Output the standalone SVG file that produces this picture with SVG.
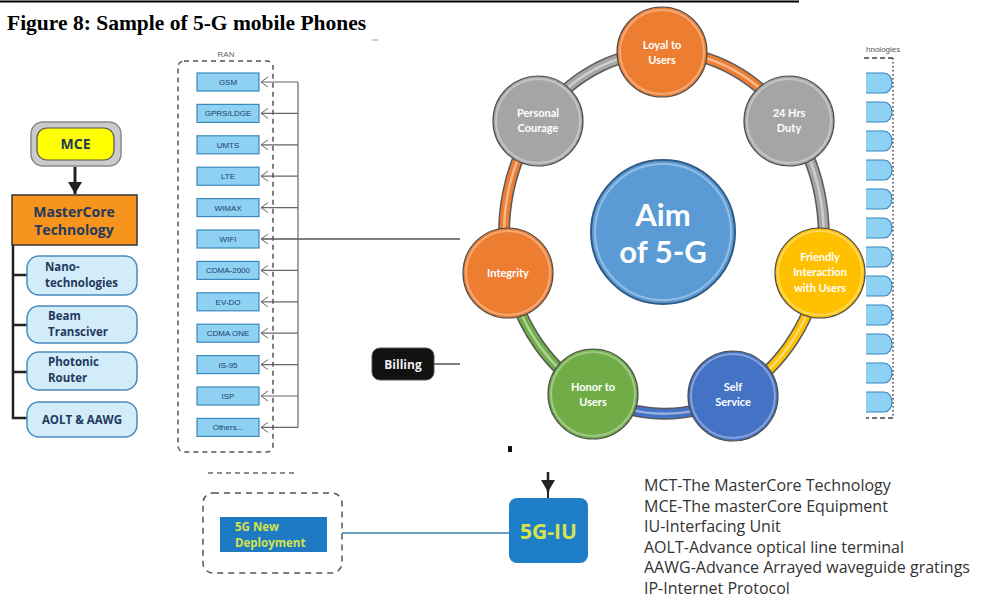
<svg xmlns="http://www.w3.org/2000/svg" width="983" height="605" viewBox="0 0 983 605">
<defs>
<style>
.t{font-family:"Open Sans","Liberation Sans",sans-serif;}
.ran rect{fill:#8ed1f2;stroke:#3b88bd;stroke-width:1.2;}
.ran text{font-family:"Liberation Sans",sans-serif;font-size:8px;fill:#23406b;text-anchor:middle;}
.conn{stroke:#666;stroke-width:1.2;fill:none;}
.chev{stroke:#666;stroke-width:1;fill:none;}
.sub rect{fill:#d3ecf9;stroke:#4a8bbf;stroke-width:1.5;}
.sub text{font-family:"Open Sans","Liberation Sans",sans-serif;font-weight:700;font-size:11.5px;fill:#22395e;}
.nd circle.b{stroke:#4d4d4d;stroke-width:1.2;}
.nd circle.h{fill:none;stroke:#fff;stroke-opacity:0.35;stroke-width:2;}
.nd text{font-family:Lato,"Open Sans","Liberation Sans",sans-serif;font-weight:700;font-size:11px;fill:#fff;text-anchor:middle;}
.rimo{fill:none;stroke:#5a5a5a;stroke-width:12;}
.rimh{fill:none;stroke:#fff;stroke-opacity:0.45;stroke-width:2.5;}
.leg{font-family:"Open Sans","Liberation Sans",sans-serif;font-size:16px;fill:#333;}
.rbox{fill:#8ed1f2;stroke:#3b88bd;stroke-width:1.2;}
</style>
<marker id="arr" markerWidth="14" markerHeight="16" refX="12" refY="7" orient="auto" markerUnits="userSpaceOnUse"><path d="M0,0 L12,7 L0,14 Z" fill="#222"/></marker>
<path id="s1" d="M662,52 A158,181 0 0 1 789,121"/>
<path id="s2" d="M789,121 A158,181 0 0 1 820,273"/>
<path id="s3" d="M820,273 A158,181 0 0 1 733,396"/>
<path id="s4" d="M733,396 A158,181 0 0 1 593,394"/>
<path id="s5" d="M593,394 A158,181 0 0 1 508,273"/>
<path id="s6" d="M508,273 A158,181 0 0 1 538,121"/>
<path id="s7" d="M538,121 A158,181 0 0 1 662,52"/>
</defs>
<rect width="983" height="605" fill="#fff"/>
<line x1="0" y1="1.5" x2="799" y2="1.5" stroke="#000" stroke-width="2"/>
<text x="7" y="30" font-family="Liberation Serif,serif" font-weight="700" font-size="21.5" fill="#000">Figure 8: Sample of 5-G mobile Phones</text>
<line x1="372" y1="40" x2="378" y2="40" stroke="#999" stroke-width="1"/>

<!-- right partial technologies column -->
<g id="tech-col">
<text x="866" y="52" font-family="Liberation Sans,sans-serif" font-size="8" fill="#555">hnologies</text>
<line x1="864" y1="58" x2="893" y2="58" stroke="#444" stroke-width="1.5" stroke-dasharray="5,3"/>
<line x1="893" y1="58" x2="893" y2="418" stroke="#444" stroke-width="1.5" stroke-dasharray="1.5,2.5"/>
<line x1="864" y1="418" x2="893" y2="418" stroke="#444" stroke-width="1.5" stroke-dasharray="5,3"/>
<path class="rbox" d="M858,73 H884 a8,10 0 0 1 0,20 H858 Z"/>
<path class="rbox" d="M858,102 H884 a8,10 0 0 1 0,20 H858 Z"/>
<path class="rbox" d="M858,131 H884 a8,10 0 0 1 0,20 H858 Z"/>
<path class="rbox" d="M858,160 H884 a8,10 0 0 1 0,20 H858 Z"/>
<path class="rbox" d="M858,189 H884 a8,10 0 0 1 0,20 H858 Z"/>
<path class="rbox" d="M858,218 H884 a8,10 0 0 1 0,20 H858 Z"/>
<path class="rbox" d="M858,247 H884 a8,10 0 0 1 0,20 H858 Z"/>
<path class="rbox" d="M858,276 H884 a8,10 0 0 1 0,20 H858 Z"/>
<path class="rbox" d="M858,305 H884 a8,10 0 0 1 0,20 H858 Z"/>
<path class="rbox" d="M858,334 H884 a8,10 0 0 1 0,20 H858 Z"/>
<path class="rbox" d="M858,363 H884 a8,10 0 0 1 0,20 H858 Z"/>
<path class="rbox" d="M858,392 H884 a8,10 0 0 1 0,20 H858 Z"/>
<rect x="840" y="60" width="26" height="360" fill="#fff"/>
</g>

<!-- connectors -->
<g id="connectors">
<line x1="75" y1="167" x2="75" y2="194" stroke="#222" stroke-width="3" marker-end="url(#arr)"/>
<polyline points="13,245 13,418 27,418" fill="none" stroke="#222" stroke-width="2.5"/>
<line x1="13" y1="275" x2="27" y2="275" stroke="#222" stroke-width="2.5"/>
<line x1="13" y1="325" x2="27" y2="325" stroke="#222" stroke-width="2.5"/>
<line x1="13" y1="372" x2="27" y2="372" stroke="#222" stroke-width="2.5"/>
<line class="conn" x1="298" y1="82" x2="298" y2="427.4"/>
<line class="conn" x1="298" y1="82" x2="261" y2="82"/>
<line class="conn" x1="298" y1="113.4" x2="261" y2="113.4"/>
<line class="conn" x1="298" y1="144.8" x2="261" y2="144.8"/>
<line class="conn" x1="298" y1="176.2" x2="261" y2="176.2"/>
<line class="conn" x1="298" y1="207.6" x2="261" y2="207.6"/>
<line x1="460" y1="239" x2="261" y2="239" stroke="#555" stroke-width="1.5"/>
<line class="conn" x1="298" y1="270.4" x2="261" y2="270.4"/>
<line class="conn" x1="298" y1="301.8" x2="261" y2="301.8"/>
<line class="conn" x1="298" y1="333.2" x2="261" y2="333.2"/>
<line class="conn" x1="298" y1="364.6" x2="261" y2="364.6"/>
<line class="conn" x1="298" y1="396" x2="261" y2="396"/>
<line class="conn" x1="298" y1="427.4" x2="261" y2="427.4"/>
<polyline class="chev" points="268,77 261,82 268,87"/>
<polyline class="chev" points="268,108.4 261,113.4 268,118.4"/>
<polyline class="chev" points="268,139.8 261,144.8 268,149.8"/>
<polyline class="chev" points="268,171.2 261,176.2 268,181.2"/>
<polyline class="chev" points="268,202.6 261,207.6 268,212.6"/>
<polyline class="chev" points="268,234 261,239 268,244"/>
<polyline class="chev" points="268,265.4 261,270.4 268,275.4"/>
<polyline class="chev" points="268,296.8 261,301.8 268,306.8"/>
<polyline class="chev" points="268,328.2 261,333.2 268,338.2"/>
<polyline class="chev" points="268,359.6 261,364.6 268,369.6"/>
<polyline class="chev" points="268,391 261,396 268,401"/>
<polyline class="chev" points="268,422.4 261,427.4 268,432.4"/>
<line x1="434" y1="364" x2="460" y2="364" stroke="#555" stroke-width="1.5"/>
<line x1="342" y1="533" x2="509" y2="533" stroke="#3a7ca5" stroke-width="1.5"/>
<line x1="548" y1="472" x2="548" y2="492" stroke="#222" stroke-width="2.5" marker-end="url(#arr)"/>
<line x1="548" y1="488" x2="548" y2="498" stroke="#222" stroke-width="2"/>
<use href="#s1" class="rimo"/><use href="#s1" fill="none" stroke="#ed7d31" stroke-width="9"/><use href="#s1" class="rimh"/>
<use href="#s2" class="rimo"/><use href="#s2" fill="none" stroke="#a5a5a5" stroke-width="9"/><use href="#s2" class="rimh"/>
<use href="#s3" class="rimo"/><use href="#s3" fill="none" stroke="#ffc000" stroke-width="9"/><use href="#s3" class="rimh"/>
<use href="#s4" class="rimo"/><use href="#s4" fill="none" stroke="#4472c4" stroke-width="9"/><use href="#s4" class="rimh"/>
<use href="#s5" class="rimo"/><use href="#s5" fill="none" stroke="#70ad47" stroke-width="9"/><use href="#s5" class="rimh"/>
<use href="#s6" class="rimo"/><use href="#s6" fill="none" stroke="#ed7d31" stroke-width="9"/><use href="#s6" class="rimh"/>
<use href="#s7" class="rimo"/><use href="#s7" fill="none" stroke="#a5a5a5" stroke-width="9"/><use href="#s7" class="rimh"/>
</g>

<!-- left column -->
<g id="mce">
<rect x="31" y="122" width="90" height="44" rx="12" fill="#cbcbcb" stroke="#8a8a8a" stroke-width="1.5"/>
<rect x="37" y="128" width="77" height="32" rx="10" fill="#ffff00" stroke="#555" stroke-width="1.2"/>
<text class="t" x="75.5" y="149" font-size="14" font-weight="700" fill="#22395e" text-anchor="middle">MCE</text>
</g>
<g id="mct">
<rect x="12" y="195" width="125" height="50" fill="#f7941d" stroke="#333" stroke-width="1.5"/>
<text class="t" x="74" y="217" font-size="14" font-weight="700" fill="#22395e" text-anchor="middle">MasterCore</text>
<text class="t" x="74" y="235" font-size="14" font-weight="700" fill="#22395e" text-anchor="middle">Technology</text>
</g>
<g id="nano" class="sub"><rect x="27" y="256" width="110" height="39" rx="12"/><text x="45" y="271">Nano-</text><text x="45" y="287">technologies</text></g>
<g id="beam" class="sub"><rect x="27" y="306" width="110" height="37" rx="12"/><text x="48" y="320">Beam</text><text x="48" y="336">Transciver</text></g>
<g id="photonic" class="sub"><rect x="27" y="352" width="110" height="38" rx="12"/><text x="48" y="366">Photonic</text><text x="48" y="382">Router</text></g>
<g id="aolt" class="sub"><rect x="27" y="402" width="110" height="35" rx="12"/><text x="82" y="424" text-anchor="middle">AOLT &amp; AAWG</text></g>

<!-- RAN -->
<g id="ran" class="ran">
<text x="226" y="57" style="fill:#666">RAN</text>
<rect x="178" y="61" width="95" height="391" rx="6" style="fill:none;stroke:#555;stroke-width:1.5;stroke-dasharray:5,4"/>
</g>
<g id="gsm" class="ran"><rect x="197" y="73" width="62" height="18"/><text x="228" y="85">GSM</text></g>
<g id="gprs" class="ran"><rect x="197" y="104.4" width="62" height="18"/><text x="228" y="116.4">GPRS/LDGE</text></g>
<g id="umts" class="ran"><rect x="197" y="135.8" width="62" height="18"/><text x="228" y="147.8">UMTS</text></g>
<g id="lte" class="ran"><rect x="197" y="167.2" width="62" height="18"/><text x="228" y="179.2">LTE</text></g>
<g id="wimax" class="ran"><rect x="197" y="198.6" width="62" height="18"/><text x="228" y="210.6">WIMAX</text></g>
<g id="wifi" class="ran"><rect x="197" y="230" width="62" height="18"/><text x="228" y="242">WIFI</text></g>
<g id="cdma2000" class="ran"><rect x="197" y="261.4" width="62" height="18"/><text x="228" y="273.4">CDMA-2000</text></g>
<g id="evdo" class="ran"><rect x="197" y="292.8" width="62" height="18"/><text x="228" y="304.8">EV-DO</text></g>
<g id="cdmaone" class="ran"><rect x="197" y="324.2" width="62" height="18"/><text x="228" y="336.2">CDMA ONE</text></g>
<g id="is95" class="ran"><rect x="197" y="355.6" width="62" height="18"/><text x="228" y="367.6">IS-95</text></g>
<g id="isp" class="ran"><rect x="197" y="387" width="62" height="18"/><text x="228" y="399">ISP</text></g>
<g id="others" class="ran"><rect x="197" y="418.4" width="62" height="18"/><text x="228" y="430.4">Others...</text></g>

<g id="billing">
<rect x="372" y="348" width="62" height="32" rx="8" fill="#111" stroke="#555" stroke-width="1"/>
<text class="t" x="403" y="368.5" font-size="12" font-weight="700" fill="#eee" text-anchor="middle">Billing</text>
</g>

<!-- ring nodes -->
<g id="aim" class="nd">
<circle class="b" cx="663" cy="232" r="72" fill="#5b9bd5" style="stroke:#2f5b86;stroke-width:2"/>
<circle class="h" cx="663" cy="232" r="68"/>
<text x="663" y="226" style="font-size:31px">Aim</text>
<text x="663" y="263" style="font-size:31px">of 5-G</text>
</g>
<g id="loyal" class="nd"><circle class="b" cx="662" cy="52" r="45" fill="#ed7d31"/><circle class="h" cx="662" cy="52" r="42"/><text x="662" y="49">Loyal to</text><text x="662" y="64">Users</text></g>
<g id="duty" class="nd"><circle class="b" cx="789" cy="121" r="45" fill="#a5a5a5"/><circle class="h" cx="789" cy="121" r="42"/><text x="789" y="117">24 Hrs</text><text x="789" y="132">Duty</text></g>
<g id="friendly" class="nd"><circle class="b" cx="820" cy="273" r="45" fill="#ffc000"/><circle class="h" cx="820" cy="273" r="42"/><text x="820" y="261">Friendly</text><text x="820" y="276">Interaction</text><text x="820" y="292">with Users</text></g>
<g id="self" class="nd"><circle class="b" cx="733" cy="396" r="45" fill="#4472c4"/><circle class="h" cx="733" cy="396" r="42"/><text x="733" y="391">Self</text><text x="733" y="406">Service</text></g>
<g id="honor" class="nd"><circle class="b" cx="593" cy="394" r="45" fill="#70ad47"/><circle class="h" cx="593" cy="394" r="42"/><text x="593" y="391">Honor to</text><text x="593" y="406">Users</text></g>
<g id="integrity" class="nd"><circle class="b" cx="508" cy="273" r="45" fill="#ed7d31"/><circle class="h" cx="508" cy="273" r="42"/><text x="508" y="277">Integrity</text></g>
<g id="personal" class="nd"><circle class="b" cx="538" cy="121" r="45" fill="#a5a5a5"/><circle class="h" cx="538" cy="121" r="42"/><text x="538" y="117">Personal</text><text x="538" y="132">Courage</text></g>

<!-- bottom -->
<rect x="508" y="446" width="4" height="6" fill="#111"/>
<line x1="208" y1="473" x2="297" y2="473" stroke="#666" stroke-width="1.5" stroke-dasharray="5,4"/>
<g id="newdeploy">
<rect x="203" y="493" width="139" height="80" rx="10" fill="none" stroke="#555" stroke-width="1.5" stroke-dasharray="6,5"/>
<rect x="220" y="517" width="107" height="35" fill="#1f7ac4"/>
<text class="t" x="235" y="531" font-size="11.5" font-weight="700" fill="#d4e34a">5G New</text>
<text class="t" x="235" y="547" font-size="11.5" font-weight="700" fill="#d4e34a">Deployment</text>
</g>
<g id="iu">
<rect x="509" y="498" width="79" height="65" rx="8" fill="#1e7fc8"/>
<text class="t" x="548.5" y="539" font-size="21" font-weight="700" fill="#d4e34a" text-anchor="middle">5G-IU</text>
</g>

<g id="legend">
<text class="leg" x="644" y="491">MCT-The MasterCore Technology</text>
<text class="leg" x="644" y="512">MCE-The masterCore Equipment</text>
<text class="leg" x="644" y="532">IU-Interfacing Unit</text>
<text class="leg" x="644" y="553">AOLT-Advance optical line terminal</text>
<text class="leg" x="644" y="573">AAWG-Advance Arrayed waveguide gratings</text>
<text class="leg" x="644" y="594">IP-Internet Protocol</text>
</g>
</svg>
